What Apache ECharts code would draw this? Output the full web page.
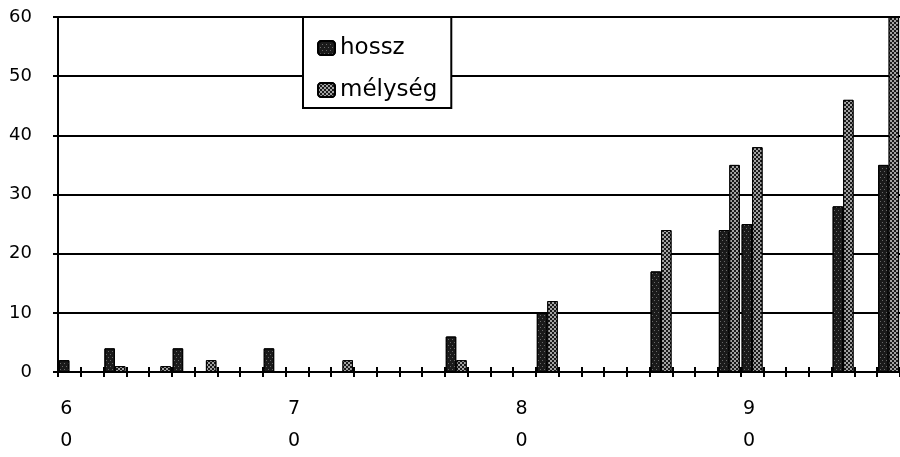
<!DOCTYPE html>
<html>
<head>
<meta charset="utf-8">
<script src="https://cdn.jsdelivr.net/npm/echarts@6/dist/echarts.min.js"></script>
<style>
html,body{margin:0;padding:0;background:#fff;}
#chart{width:900px;height:457px;}
</style>
</head>
<body>
<div id="chart"></div>
<script>
var categories = ['60','61','62','63','64','65','66','67','68','69','70','71','72','73','74','75','76','77','78','79','80','81','82','83','84','85','86','87','88','89','90','91','92','93','94','95','96'];
var hossz =   [2,0,4,0,0,4,0,0,0,4,0,0,0,0,0,0,0,6,0,0,0,10,0,0,0,0,17,0,0,24,25,0,0,0,28,0,35];
var melyseg = [0,0,1,0,1,0,2,0,0,0,0,0,2,0,0,0,0,2,0,0,0,12,0,0,0,0,24,0,0,35,38,0,0,0,46,0,60];
var yTicks = { min: 0, max: 60, interval: 10 };
var seriesNames = ['hossz', 'mélység'];

var chart = echarts.init(document.getElementById('chart'), null, { renderer: 'canvas' });
var font = 'DejaVu Sans';
chart.setOption({
  animation: false,
  backgroundColor: '#fff',
  grid: { left: 58, top: 17, width: 843, height: 361 },
  legend: {
    orient: 'vertical',
    left: 303, top: 17,
    padding: [17, 14, 4, 14],
    itemGap: 14,
    itemWidth: 17, itemHeight: 14,
    backgroundColor: '#fff',
    borderColor: '#000', borderWidth: 2,
    textStyle: { fontFamily: font, fontSize: 23, color: '#000', lineHeight: 28 },
    data: seriesNames
  },
  xAxis: [{
    type: 'category',
    data: categories,
    axisLine: { lineStyle: { color: '#000', width: 2 } },
    axisTick: { show: true, interval: 0, length: 5, lineStyle: { color: '#000', width: 2 } },
    axisLabel: {
      interval: 9,
      fontFamily: font, fontSize: 19, color: '#000',
      lineHeight: 32, margin: 21,
      padding: [0, 6, 0, 0],
      formatter: function (v) { return v.split('').join('\n'); }
    },
    splitLine: { show: false }
  }, {
    type: 'category',
    data: categories,
    position: 'bottom',
    axisLine: { show: false },
    axisTick: { show: true, inside: true, interval: 0, length: 5, lineStyle: { color: '#000', width: 2 } },
    axisLabel: { show: false },
    splitLine: { show: false }
  }],
  yAxis: {
    type: 'value',
    min: yTicks.min, max: yTicks.max, interval: yTicks.interval,
    axisLine: { show: true, lineStyle: { color: '#000', width: 2 } },
    axisTick: { show: true, length: 5, lineStyle: { color: '#000', width: 2 } },
    axisLabel: { fontFamily: font, fontSize: 18, color: '#000', margin: 26 },
    splitLine: { show: true, lineStyle: { color: '#000', width: 2 } }
  },
  series: [{
    name: seriesNames[0],
    type: 'bar',
    xAxisIndex: 0,
    data: hossz,
    barGap: '0%',
    barCategoryGap: '8%',
    itemStyle: {
      color: '#1a1a1a', borderColor: '#000', borderWidth: 1,
      decal: { symbol: 'rect', symbolSize: 1, color: 'rgba(255,255,255,0.35)', dashArrayX: [[1, 3], [0, 2, 1, 1]], dashArrayY: [1, 2] }
    }
  }, {
    name: seriesNames[1],
    type: 'bar',
    xAxisIndex: 0,
    data: melyseg,
    itemStyle: {
      color: '#1a1a1a', borderColor: '#000', borderWidth: 1,
      decal: { symbol: 'rect', symbolSize: 1, color: 'rgba(255,255,255,0.6)', dashArrayX: [[2, 2], [0, 2, 2, 0]], dashArrayY: [2, 0] }
    }
  }]
});
</script>
</body>
</html>
